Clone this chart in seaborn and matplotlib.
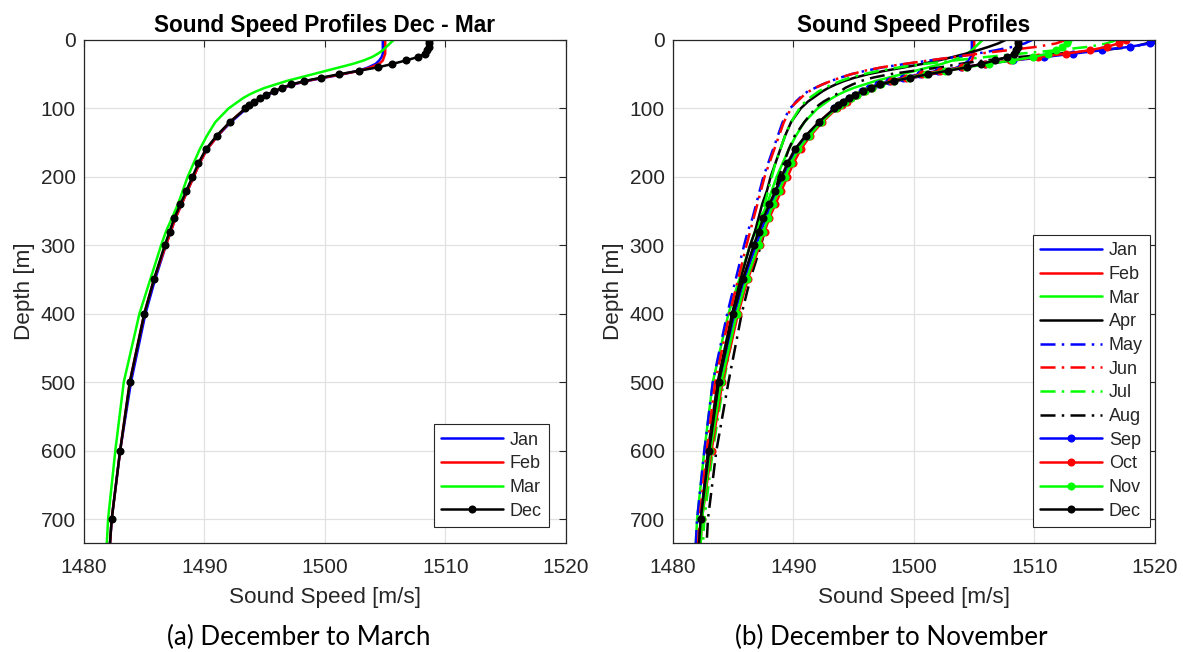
import matplotlib

matplotlib.use("Agg")
import matplotlib.pyplot as plt
import pandas as pd
import seaborn as sns

# depth levels [m] shared by every monthly profile
DEPTH = [0, 5, 10, 15, 20, 25, 30, 35, 40, 45, 50, 55, 60, 65, 70, 75, 80, 85, 90, 95, 100,
         120, 140, 160, 180, 200, 220, 240, 260, 280, 300, 350, 400, 500, 600, 700, 800]

MONTHS = ["Jan", "Feb", "Mar", "Apr", "May", "Jun", "Jul", "Aug", "Sep", "Oct", "Nov", "Dec"]
WINTER = ["Jan", "Feb", "Mar", "Dec"]

# sound speed [m/s]
SPEED_JAN = [1504.8, 1504.8, 1504.8, 1504.8, 1504.8, 1504.7, 1504.5, 1504.2, 1503.6, 1502.8, 1501.5,
             1500.0, 1498.5, 1497.4, 1496.6, 1495.9, 1495.3, 1494.8, 1494.3, 1493.9, 1493.5,
             1492.2, 1491.1, 1490.2, 1489.6, 1489.1, 1488.6, 1488.1, 1487.6, 1487.2, 1486.8,
             1485.9, 1485.1, 1483.9, 1483.0, 1482.3, 1481.9]
SPEED_FEB = [1505.0, 1505.0, 1505.0, 1505.0, 1505.0, 1504.9, 1504.8, 1504.5, 1503.8, 1502.9, 1501.4,
             1499.9, 1498.4, 1497.3, 1496.5, 1495.8, 1495.2, 1494.7, 1494.2, 1493.8, 1493.4,
             1492.1, 1491.1, 1490.2, 1489.6, 1489.1, 1488.6, 1488.1, 1487.6, 1487.2, 1486.8,
             1485.8, 1485.0, 1483.8, 1483.0, 1482.3, 1481.9]
SPEED_MAR = [1505.7, 1505.4, 1505.1, 1504.8, 1504.4, 1503.9, 1503.2, 1502.3, 1501.2, 1500.1, 1499.0,
             1497.9, 1496.8, 1495.9, 1495.0, 1494.3, 1493.7, 1493.2, 1492.8, 1492.4, 1492.0,
             1490.9, 1490.2, 1489.6, 1489.1, 1488.6, 1488.2, 1487.8, 1487.3, 1486.8, 1486.4,
             1485.5, 1484.6, 1483.3, 1482.6, 1482.0, 1481.7]
SPEED_APR = [1507.6, 1507.0, 1506.2, 1505.3, 1504.3, 1503.2, 1502.0, 1500.7, 1499.2, 1497.6, 1496.2,
             1495.1, 1494.2, 1493.5, 1492.9, 1492.4, 1492.0, 1491.6, 1491.2, 1490.9, 1490.6,
             1489.8, 1489.3, 1488.9, 1488.5, 1488.1, 1487.8, 1487.4, 1487.1, 1486.8, 1486.4,
             1485.6, 1484.9, 1483.7, 1482.9, 1482.3, 1482.0]
SPEED_MAY = [1509.8, 1509.2, 1508.2, 1506.8, 1505.2, 1503.4, 1501.3, 1499.3, 1497.4, 1496.0, 1494.8,
             1493.9, 1493.1, 1492.4, 1491.8, 1491.2, 1490.8, 1490.5, 1490.2, 1490.0, 1489.7,
             1489.1, 1488.7, 1488.3, 1487.9, 1487.5, 1487.2, 1486.9, 1486.6, 1486.2, 1485.9,
             1485.2, 1484.5, 1483.3, 1482.6, 1482.0, 1481.7]
SPEED_JUN = [1512.6, 1511.8, 1510.2, 1507.8, 1505.4, 1503.3, 1501.2, 1499.2, 1497.3, 1495.9, 1494.8,
             1493.9, 1493.1, 1492.4, 1491.8, 1491.3, 1490.9, 1490.6, 1490.3, 1490.0, 1489.8,
             1489.2, 1488.8, 1488.4, 1488.0, 1487.6, 1487.3, 1487.0, 1486.7, 1486.4, 1486.1,
             1485.4, 1484.7, 1483.5, 1482.8, 1482.2, 1481.9]
SPEED_JUL = [1516.8, 1516.0, 1514.5, 1511.8, 1508.8, 1505.9, 1503.3, 1500.9, 1498.8, 1497.1, 1495.8,
             1494.7, 1493.9, 1493.2, 1492.6, 1492.1, 1491.7, 1491.3, 1491.0, 1490.7, 1490.5,
             1489.8, 1489.3, 1488.9, 1488.5, 1488.2, 1487.9, 1487.6, 1487.3, 1487.0, 1486.7,
             1485.9, 1485.3, 1484.2, 1483.3, 1482.6, 1482.3]
SPEED_AUG = [1519.7, 1519.3, 1518.2, 1515.5, 1512.0, 1508.6, 1505.8, 1503.8, 1502.2, 1500.0, 1498.0,
             1496.6, 1495.6, 1494.9, 1494.3, 1493.9, 1493.5, 1493.0, 1492.5, 1492.1, 1491.8,
             1490.9, 1490.1, 1489.6, 1489.2, 1488.8, 1488.5, 1488.2, 1487.9, 1487.6, 1487.3,
             1486.4, 1485.7, 1484.6, 1483.6, 1482.9, 1482.6]
SPEED_SEP = [1519.9, 1519.6, 1517.9, 1515.6, 1513.2, 1510.8, 1508.2, 1505.9, 1503.9, 1502.0, 1500.5,
             1499.1, 1497.9, 1497.0, 1496.3, 1495.7, 1495.1, 1494.6, 1494.2, 1493.8, 1493.4,
             1492.2, 1491.2, 1490.3, 1489.7, 1489.2, 1488.7, 1488.2, 1487.7, 1487.3, 1486.9,
             1485.9, 1485.1, 1483.9, 1483.0, 1482.3, 1482.0]
SPEED_OCT = [1517.6, 1517.0, 1516.0, 1514.6, 1512.6, 1510.3, 1508.0, 1505.9, 1504.0, 1502.2, 1500.7,
             1499.3, 1498.1, 1497.2, 1496.5, 1495.9, 1495.3, 1494.8, 1494.4, 1494.0, 1493.6,
             1492.4, 1491.4, 1490.6, 1490.0, 1489.5, 1489.0, 1488.5, 1488.0, 1487.6, 1487.2,
             1486.2, 1485.4, 1484.1, 1483.2, 1482.4, 1482.1]
SPEED_NOV = [1512.8, 1512.7, 1512.3, 1511.8, 1511.1, 1509.9, 1508.1, 1506.2, 1504.3, 1502.6, 1501.0,
             1499.6, 1498.3, 1497.3, 1496.5, 1495.9, 1495.3, 1494.8, 1494.3, 1493.9, 1493.5,
             1492.3, 1491.3, 1490.4, 1489.8, 1489.3, 1488.8, 1488.3, 1487.9, 1487.5, 1487.1,
             1486.1, 1485.3, 1484.0, 1483.1, 1482.4, 1482.1]
SPEED_DEC = [1508.6, 1508.6, 1508.6, 1508.5, 1508.3, 1507.7, 1506.7, 1505.6, 1504.4, 1502.8, 1501.2,
             1499.7, 1498.3, 1497.2, 1496.4, 1495.8, 1495.1, 1494.6, 1494.1, 1493.7, 1493.4,
             1492.1, 1491.0, 1490.1, 1489.5, 1489.0, 1488.5, 1488.0, 1487.5, 1487.1, 1486.7,
             1485.8, 1485.0, 1483.8, 1483.0, 1482.3, 1481.9]

SPEEDS = [SPEED_JAN, SPEED_FEB, SPEED_MAR, SPEED_APR, SPEED_MAY, SPEED_JUN,
          SPEED_JUL, SPEED_AUG, SPEED_SEP, SPEED_OCT, SPEED_NOV, SPEED_DEC]

# MATLAB-like line specs: colour, line style, marker
DASHDOT = (0, (6, 2.5, 1, 2.5))
STYLES = {
    "Jan": ("#0000ff", "-", None), "Feb": ("#ff0000", "-", None),
    "Mar": ("#00ff00", "-", None), "Apr": ("#000000", "-", None),
    "May": ("#0000ff", DASHDOT, None), "Jun": ("#ff0000", DASHDOT, None),
    "Jul": ("#00ff00", DASHDOT, None), "Aug": ("#000000", DASHDOT, None),
    "Sep": ("#0000ff", "-", "o"), "Oct": ("#ff0000", "-", "o"),
    "Nov": ("#00ff00", "-", "o"), "Dec": ("#000000", "-", "o"),
}

INK = "#262626"


def build_frame() -> pd.DataFrame:
    parts = []
    for month, speed in zip(MONTHS, SPEEDS):
        parts.append(pd.DataFrame({"month": month, "depth": DEPTH, "speed": speed}))
    return pd.concat(parts, ignore_index=True)


def draw_panel(ax, frame, months, title, legend_x):
    for month in months:
        color, dash, marker = STYLES[month]
        sns.lineplot(
            data=frame[frame["month"] == month], x="speed", y="depth",
            sort=False, estimator=None, color=color, linestyle=dash,
            marker=marker, markersize=5.8, markeredgewidth=0,
            linewidth=1.8, label=month, ax=ax,
        )
    ax.set_xlim(1480, 1520)
    ax.set_ylim(735, 0)
    ax.set_xticks([1480, 1490, 1500, 1510, 1520])
    ax.set_yticks(range(0, 800, 100))
    ax.set_title(title, fontsize=16.3, fontweight="bold", color="black", pad=6)
    ax.set_xlabel("Sound Speed [m/s]", fontsize=16.2, color=INK, labelpad=7)
    ax.set_ylabel("Depth [m]", fontsize=16.2, color=INK, labelpad=4)
    ax.tick_params(direction="in", top=True, right=True, length=5, width=0.8,
                   color=INK, labelcolor=INK, labelsize=15)
    ax.tick_params(axis="x", pad=11)
    ax.tick_params(axis="y", pad=6)
    ax.grid(True, color="#e1e1e1", linewidth=0.9)
    ax.set_axisbelow(True)
    for spine in ax.spines.values():
        spine.set_color(INK)
        spine.set_linewidth(0.9)
    leg = ax.legend(loc="lower right", bbox_to_anchor=(legend_x, 0.032), borderaxespad=0,
                    fontsize=13, handlelength=3.4, handletextpad=0.4, labelspacing=0.37,
                    fancybox=False, framealpha=1, edgecolor=INK, borderpad=0.4)
    leg.get_frame().set_linewidth(0.8)


def main() -> int:
    sns.set_theme(style="whitegrid")
    plt.rcParams["font.family"] = ["Liberation Sans", "DejaVu Sans"]
    frame = build_frame()

    fig = plt.figure(figsize=(11.83, 6.52), dpi=100)
    ax_left = fig.add_axes([0.0710, 0.1672, 0.4074, 0.7715])
    ax_right = fig.add_axes([0.5689, 0.1672, 0.4074, 0.7715])

    draw_panel(ax_left, frame, WINTER, "Sound Speed Profiles Dec - Mar", 0.965)
    draw_panel(ax_right, frame, MONTHS, "Sound Speed Profiles", 0.990)

    fig.text(0.2528, 0.023, "(a) December to March", ha="center", va="center",
             fontsize=18.7, family="Lato", color="black")
    fig.text(0.7530, 0.023, "(b) December to November", ha="center", va="center",
             fontsize=18.7, family="Lato", color="black")

    fig.savefig("out.png", dpi=100, facecolor="white")
    plt.close(fig)
    return 0


if __name__ == "__main__":
    raise SystemExit(main())
